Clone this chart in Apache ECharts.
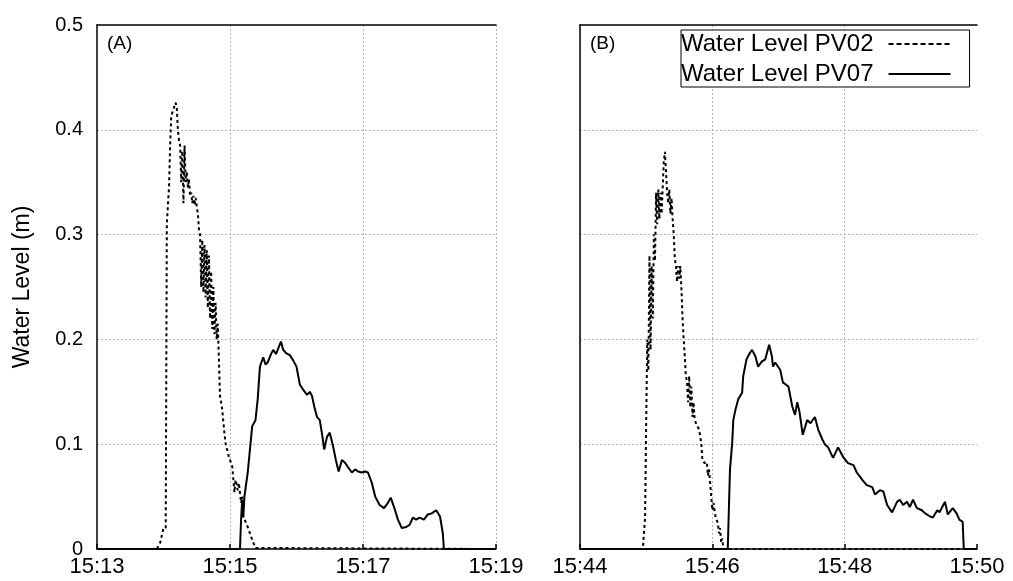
<!DOCTYPE html>
<html>
<head>
<meta charset="utf-8">
<title>Water Level PV02 / PV07</title>
<script src="https://cdn.jsdelivr.net/npm/echarts@6/dist/echarts.min.js"></script>
<style>
  html, body { margin: 0; padding: 0; background: #fff; }
  #chart { width: 1013px; height: 581px; }
</style>
</head>
<body>
<div id="chart"></div>
<script>
// Panel start times (HH:MM); sample times below are seconds after these.
const panelStarts = ['15:13', '15:44'];
const panelTags = ['(A)', '(B)'];
const seriesNames = ['Water Level PV02', 'Water Level PV07'];
const spanSeconds = 360;      // each panel covers six minutes
const xTickStep = 120;        // tick every two minutes
const yTicks = [0, 0.1, 0.2, 0.3, 0.4, 0.5];

// ---- Event A (15:13 - 15:19) ----
const pv02A_t = [0, 54, 57, 60, 62, 63, 65, 66, 67, 69, 71, 72, 73, 74, 75, 76, 77, 78, 79, 80,
  81, 82, 83, 84, 85, 86, 87, 88, 89, 90, 91, 92, 93, 94, 95, 96, 97, 98, 99, 100,
  101, 102, 103, 104, 105, 106, 107, 108, 109, 110, 111, 112, 113, 115, 116, 119, 122, 124, 125, 127,
  128, 130, 131, 132, 136, 140, 143, 144, 360];
const pv02A_v = [0, 0, 0.006, 0.02, 0.02, 0.31, 0.346, 0.385, 0.413, 0.42, 0.426, 0.42, 0.40, 0.39, 0.385, 0.35, 0.38, 0.33, 0.385, 0.35,
  0.36, 0.345, 0.353, 0.337, 0.34, 0.33, 0.337, 0.328, 0.335, 0.327, 0.32, 0.305, 0.30, 0.25, 0.295, 0.245, 0.29, 0.24, 0.285, 0.23,
  0.28, 0.22, 0.265, 0.21, 0.25, 0.205, 0.235, 0.20, 0.215, 0.18, 0.146, 0.14, 0.133, 0.11, 0.101, 0.088, 0.079, 0.054, 0.066, 0.056,
  0.063, 0.044, 0.05, 0.031, 0.021, 0.009, 0.001, 0, 0];

const pv07A_t = [0, 129, 130, 131, 132, 133, 136, 140, 143, 145, 147, 150, 152, 154, 157, 159, 161.5, 163, 166, 168,
  170.5, 174, 177, 180, 183, 186, 189.5, 192, 194, 196, 198.5, 201, 203, 205, 207.5, 210, 213, 215.5, 218, 221,
  224, 226.5, 230, 233, 235.5, 239, 242, 244.5, 248, 251, 255, 259, 262.5, 265, 268, 271.5, 275, 279, 282, 285,
  288, 291, 295, 298.5, 302, 306, 309.5, 312, 313, 360];
const pv07A_v = [0, 0, 0.028, 0.047, 0.03, 0.05, 0.073, 0.117, 0.123, 0.143, 0.174, 0.183, 0.176, 0.178, 0.186, 0.19, 0.186, 0.19, 0.198, 0.19,
  0.187, 0.185, 0.18, 0.174, 0.157, 0.152, 0.147, 0.15, 0.146, 0.136, 0.126, 0.123, 0.11, 0.095, 0.107, 0.111, 0.098, 0.085, 0.074, 0.085,
  0.082, 0.078, 0.073, 0.076, 0.074, 0.073, 0.074, 0.073, 0.063, 0.05, 0.042, 0.039, 0.044, 0.049, 0.04, 0.028, 0.02, 0.021, 0.023, 0.03,
  0.028, 0.03, 0.028, 0.033, 0.034, 0.037, 0.031, 0.015, 0, 0];

// ---- Event B (15:44 - 15:50) ----
const pv02B_t = [0, 57, 59, 60, 61, 62, 63, 64, 65, 66, 67, 68, 69, 70, 71, 72, 73, 74, 75, 76,
  77, 78, 79, 80, 81, 82, 83, 84, 85, 86, 87, 88, 89, 90, 91, 92, 93, 94, 95, 96,
  97, 98, 99, 100, 101, 102, 103, 104, 106, 108, 110, 111, 113, 115, 116, 117, 118, 119, 120, 121,
  122, 123, 125, 126, 127, 128, 129, 130, 360];
const pv02B_v = [0, 0, 0.03, 0.12, 0.20, 0.17, 0.28, 0.19, 0.27, 0.22, 0.30, 0.275, 0.34, 0.31, 0.343, 0.315, 0.34, 0.32, 0.345, 0.37,
  0.379, 0.36, 0.34, 0.33, 0.343, 0.32, 0.335, 0.315, 0.30, 0.277, 0.27, 0.255, 0.27, 0.258, 0.27, 0.248, 0.22, 0.20, 0.184, 0.165,
  0.16, 0.14, 0.165, 0.135, 0.155, 0.126, 0.14, 0.123, 0.118, 0.114, 0.101, 0.085, 0.082, 0.083, 0.07, 0.076, 0.063, 0.05, 0.037, 0.044,
  0.037, 0.03, 0.025, 0.015, 0.02, 0.006, 0.01, 0, 0];

const pv07B_t = [0, 134, 136, 138, 139, 141, 143.5, 147, 148, 151, 154, 156, 159, 161.5, 165, 168, 171.5, 174, 175, 177,
  181.5, 184, 189, 192.5, 195, 197, 199, 202, 206, 209, 213, 216, 220, 222, 225, 229.5, 234, 238.5, 243, 248,
  251, 256, 260, 265, 267.5, 272, 275, 278.5, 283, 287.5, 290, 293, 296.5, 299, 302, 305.5, 310, 313, 317.5, 320,
  324, 326, 331, 333.5, 338, 341.5, 344, 347, 348, 360];
const pv07B_v = [0, 0, 0.076, 0.101, 0.123, 0.133, 0.143, 0.149, 0.165, 0.181, 0.187, 0.19, 0.184, 0.174, 0.179, 0.181, 0.195, 0.184, 0.174, 0.178,
  0.171, 0.159, 0.155, 0.136, 0.128, 0.14, 0.131, 0.109, 0.123, 0.12, 0.126, 0.114, 0.104, 0.10, 0.097, 0.087, 0.097, 0.088, 0.082, 0.08,
  0.073, 0.066, 0.061, 0.059, 0.052, 0.056, 0.055, 0.042, 0.035, 0.045, 0.047, 0.042, 0.045, 0.04, 0.047, 0.039, 0.037, 0.034, 0.031, 0.03,
  0.037, 0.035, 0.045, 0.033, 0.039, 0.034, 0.028, 0.026, 0, 0];

const FONT = '"Liberation Sans", Arial, sans-serif';
const gridColor = '#b4b4b4';

function zip(t, v) { return t.map((s, i) => [s, v[i]]); }

function clockLabel(start) {
  const [h, m] = start.split(':').map(Number);
  return function (sec) {
    const total = h * 60 + m + Math.round(sec / 60);
    const hh = Math.floor(total / 60), mm = total % 60;
    return hh + ':' + String(mm).padStart(2, '0');
  };
}

const grids = [
  { left: 97, right: 517, top: 25, bottom: 32 },
  { left: 580, right: 36, top: 25, bottom: 32 }
];

const xAxes = [];
const yAxes = [];
[0, 1].forEach(g => {
  // bottom time axis
  xAxes.push({
    type: 'value', gridIndex: g, min: 0, max: spanSeconds, interval: xTickStep,
    axisLine: { show: true, onZero: false, lineStyle: { color: '#000', width: 1.5 } },
    axisTick: { show: true, inside: true, length: 5, lineStyle: { color: '#000', width: 1.5 } },
    axisLabel: { color: '#000', fontSize: 22, fontFamily: FONT, margin: 7, formatter: clockLabel(panelStarts[g]) },
    splitLine: {
      show: true, showMinLine: g === 1, showMaxLine: g === 0,
      lineStyle: { color: gridColor, type: [2, 2], width: 1 }
    }
  });
  // top frame edge
  xAxes.push({
    type: 'value', gridIndex: g, position: 'top', min: 0, max: spanSeconds, interval: xTickStep,
    axisLine: { show: true, onZero: false, lineStyle: { color: '#000', width: 1.5 } },
    axisTick: { show: false }, axisLabel: { show: false }, splitLine: { show: false }
  });
  yAxes.push({
    type: 'value', gridIndex: g, min: yTicks[0], max: yTicks[yTicks.length - 1],
    interval: yTicks[1] - yTicks[0],
    name: g === 0 ? 'Water Level (m)' : '',
    nameLocation: 'middle', nameGap: 63,
    nameTextStyle: { color: '#000', fontSize: 23, fontFamily: FONT },
    axisLine: { show: g === 0, lineStyle: { color: '#000', width: 1.5 } },
    axisTick: { show: false },
    axisLabel: {
      show: g === 0, color: '#000', fontSize: 20, fontFamily: FONT, margin: 14,
      formatter: v => (v === 0 ? '0' : v.toFixed(1))
    },
    splitLine: {
      show: true, showMinLine: false, showMaxLine: false,
      lineStyle: { color: gridColor, type: [2, 2], width: 1 }
    }
  });
});
// right frame edge of panel B
yAxes.push({
  type: 'value', gridIndex: 1, position: 'right', min: 0, max: 0.5,
  axisLine: { show: true, lineStyle: { color: '#000', width: 1.5 } },
  axisTick: { show: false }, axisLabel: { show: false }, splitLine: { show: false }
});

const dashed = { color: '#000', width: 2, type: [3, 3] };
const solid = { color: '#000', width: 2, type: 'solid' };

function lineSeries(name, data, g, style, z) {
  return {
    name, type: 'line', data, xAxisIndex: g * 2, yAxisIndex: g,
    symbol: 'none', showSymbol: false, smooth: false,
    lineStyle: style, itemStyle: { color: '#000' }, z,
    emphasis: { disabled: true }
  };
}

const series = [
  lineSeries(seriesNames[0], zip(pv02A_t, pv02A_v), 0, dashed, 2),
  lineSeries(seriesNames[1], zip(pv07A_t, pv07A_v), 0, solid, 3),
  lineSeries(seriesNames[0], zip(pv02B_t, pv02B_v), 1, dashed, 2),
  lineSeries(seriesNames[1], zip(pv07B_t, pv07B_v), 1, solid, 3)
];

const tagStyle = { fontSize: 19, fontWeight: 'normal', color: '#000', fontFamily: FONT };

const chart = echarts.init(document.getElementById('chart'), null, { renderer: 'canvas' });
chart.setOption({
  animation: false,
  backgroundColor: '#fff',
  grid: grids,
  xAxis: xAxes,
  yAxis: yAxes,
  title: [
    { text: panelTags[0], left: 107, top: 34, padding: 0, textStyle: tagStyle },
    { text: panelTags[1], left: 590, top: 34, padding: 0, textStyle: tagStyle }
  ],
  legend: {
    data: [
      { name: seriesNames[0], lineStyle: { type: [5, 3], width: 2 } },
      { name: seriesNames[1], lineStyle: { type: 'solid', width: 2 } }
    ],
    orient: 'vertical', align: 'right',
    left: 681, top: 30,
    backgroundColor: '#fff', borderColor: '#000', borderWidth: 1, borderRadius: 0,
    padding: [2, 18, 1, 0],
    itemWidth: 62, itemHeight: 14, itemGap: 6,
    selectedMode: false,
    itemStyle: { opacity: 0 },
    textStyle: { color: '#000', fontSize: 24, fontFamily: FONT, padding: [0, 10, 0, 0] }
  },
  series
});
</script>
</body>
</html>
